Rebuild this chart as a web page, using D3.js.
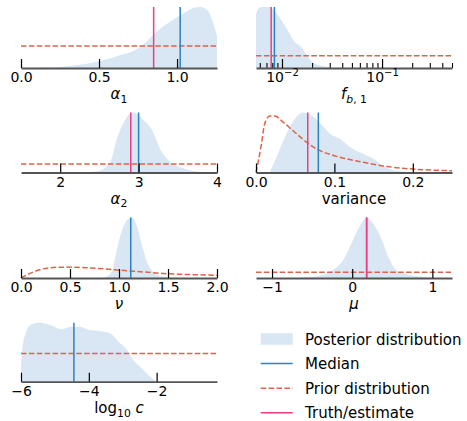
<!DOCTYPE html>
<html><head><meta charset="utf-8">
<script src="https://cdn.jsdelivr.net/npm/d3@7"></script>
<style>body{margin:0;background:#fff} svg{display:block} text{font-family:"DejaVu Sans",sans-serif;fill:#000}</style>
</head><body><svg id="c" width="467" height="421"></svg>
<script>
// ---------- data ----------
const alpha1Posterior = [[0,0],[0.1,0.003],[0.2,0.012],[0.3,0.03],[0.4,0.06],[0.5,0.11],[0.6,0.18],[0.65,0.22],[0.7,0.26],[0.75,0.32],[0.8,0.42],[0.85,0.55],[0.9,0.66],[0.95,0.75],[1.0,0.83],[1.05,0.91],[1.1,0.98],[1.15,1.0],[1.2,0.93],[1.23,0.75],[1.256,0.52]];
const alpha1PriorLevel = 0.36;
const alpha1Median = 1.02, alpha1Truth = 0.85;
const alpha1Ticks = [0, 0.5, 1.0];
const alpha1TickLabels = ["0.0","0.5","1.0"];

const fb1Posterior = [[0.0055,0.88],[0.0058,0.97],[0.0063,1.0],[0.0076,1.0],[0.0085,0.93],[0.0096,0.81],[0.0116,0.6],[0.0135,0.42],[0.0151,0.37],[0.0177,0.21],[0.0206,0.08],[0.028,0.02],[0.034,0]];
const fb1PriorLevel = 0.2;
const fb1Median = 0.0084, fb1Truth = 0.0078;
const fb1Ticks = [0.01, 0.1];
const fb1TickExponents = ["−2","−1"];
const fb1MinorTicks = [0.006,0.007,0.008,0.009,0.02,0.03,0.04,0.05,0.06,0.07,0.08,0.09,0.2,0.3,0.4,0.5];

const alpha2Posterior = [[2.3,0],[2.47,0.02],[2.64,0.18],[2.72,0.55],[2.83,0.88],[2.92,1.0],[2.98,0.98],[3.06,0.88],[3.17,0.71],[3.28,0.38],[3.4,0.18],[3.57,0.07],[3.8,0.01],[4.0,0]];
const alpha2PriorLevel = 0.14;
const alpha2Median = 3.0, alpha2Truth = 2.9;
const alpha2Ticks = [2, 3, 4];
const alpha2TickLabels = ["2","3","4"];

const variancePosterior = [[0.0175,0],[0.026,0.25],[0.037,0.59],[0.047,0.84],[0.06,1.0],[0.071,0.95],[0.084,0.79],[0.094,0.65],[0.107,0.56],[0.124,0.39],[0.137,0.31],[0.15,0.23],[0.162,0.11],[0.18,0.03],[0.21,0]];
const variancePrior = [[0,0],[0.007,0.48],[0.011,0.81],[0.0175,0.94],[0.024,0.94],[0.0345,0.84],[0.047,0.7],[0.066,0.49],[0.079,0.38],[0.1,0.28],[0.137,0.17],[0.167,0.1],[0.2,0.057],[0.25,0.03]];
const varianceMedian = 0.0795, varianceTruth = 0.066;
const varianceTicks = [0, 0.1, 0.2];
const varianceTickLabels = ["0.0","0.1","0.2"];

const nuPosterior = [[0.84,0],[0.925,0.1],[0.977,0.46],[1.03,0.79],[1.095,0.98],[1.13,1.0],[1.18,0.87],[1.23,0.57],[1.28,0.29],[1.35,0.1],[1.45,0.02],[1.55,0]];
const nuPrior = [[0,0],[0.126,0.1],[0.296,0.17],[0.466,0.18],[0.67,0.17],[1.0,0.13],[1.25,0.1],[1.5,0.07],[1.76,0.055],[2.0,0.045]];
const nuMedian = 1.12;
const nuTicks = [0, 0.5, 1.0, 1.5, 2.0];
const nuTickLabels = ["0.0","0.5","1.0","1.5","2.0"];

const muPosterior = [[-0.7,0],[-0.49,0.02],[-0.28,0.1],[-0.11,0.3],[0.01,0.63],[0.1,0.87],[0.18,1.0],[0.26,0.9],[0.37,0.63],[0.45,0.35],[0.55,0.13],[0.72,0.05],[0.97,0.01],[1.1,0]];
const muPriorLevel = 0.094;
const muMedian = 0.18, muTruth = 0.18;
const muTicks = [-1, 0, 1];
const muTickLabels = ["−1","0","1"];

const logcPosterior = [[-6,0.28],[-5.95,0.6],[-5.86,0.82],[-5.7,0.97],[-5.44,1.0],[-5.14,0.96],[-4.8,0.89],[-4.5,0.93],[-4.26,0.93],[-4.01,0.88],[-3.67,0.86],[-3.37,0.82],[-3.13,0.68],[-2.88,0.54],[-2.69,0.37],[-2.39,0.2],[-2.14,0.06],[-2.0,0]];
const logcPriorLevel = 0.48;
const logcMedian = -4.44;
const logcTicks = [-6, -4, -2];
const logcTickLabels = ["−6","−4","−2"];

const legendLabels = ["Posterior distribution","Median","Prior distribution","Truth/estimate"];

// ---------- styles / layout ----------
const C = {fill:"#d8e7f3", median:"#2a82c3", prior:"#dd6448", truth:"#ee3d82", axis:"#555"};
const colX = [[21,217],[256,452]];
const rowBottom = [68, 172.5, 278, 381.7];
const rowH = [61, 60, 60.5, 59];

const svg = d3.select("#c");

function richText(g, x, y, parts, size) {
  const t = g.append("text").attr("x", x).attr("y", y).attr("text-anchor","middle").attr("font-size", size);
  let shift = 0;
  parts.forEach(p => {
    const target = p.sub ? size*0.26 : p.sup ? -size*0.42 : 0;
    const ts = t.append("tspan").text(p.t).attr("dy", target - shift);
    shift = target;
    if (p.sub || p.sup) ts.attr("font-size", size*0.72);
    if (p.it) ts.attr("font-style","italic");
  });
  return t;
}

const panels = [
  {row:0,col:0,domain:[0,1.256],post:alpha1Posterior,priorLevel:alpha1PriorLevel,median:alpha1Median,truth:alpha1Truth,ticks:alpha1Ticks,labels:alpha1TickLabels,
   title:[{t:"α",it:true},{t:"1",sub:true}]},
  {row:0,col:1,log:true,domain:[0.0055,0.5],post:fb1Posterior,priorLevel:fb1PriorLevel,median:fb1Median,truth:fb1Truth,ticks:fb1Ticks,exps:fb1TickExponents,minor:fb1MinorTicks,
   title:[{t:"f",it:true},{t:"b",sub:true,it:true},{t:", 1",sub:true}]},
  {row:1,col:0,domain:[1.5,4],post:alpha2Posterior,priorLevel:alpha2PriorLevel,median:alpha2Median,truth:alpha2Truth,ticks:alpha2Ticks,labels:alpha2TickLabels,
   title:[{t:"α",it:true},{t:"2",sub:true}]},
  {row:1,col:1,domain:[0,0.25],post:variancePosterior,prior:variancePrior,median:varianceMedian,truth:varianceTruth,ticks:varianceTicks,labels:varianceTickLabels,
   title:[{t:"variance"}]},
  {row:2,col:0,domain:[0,2],post:nuPosterior,prior:nuPrior,median:nuMedian,ticks:nuTicks,labels:nuTickLabels,
   title:[{t:"ν",it:true}]},
  {row:2,col:1,domain:[-1.2,1.245],post:muPosterior,priorLevel:muPriorLevel,median:muMedian,truth:muTruth,ticks:muTicks,labels:muTickLabels,
   title:[{t:"μ",it:true}]},
  {row:3,col:0,domain:[-6,-0.22],post:logcPosterior,priorLevel:logcPriorLevel,median:logcMedian,ticks:logcTicks,labels:logcTickLabels,
   title:[{t:"log"},{t:"10",sub:true},{t:" "},{t:"c",it:true}]}
];

panels.forEach(p => {
  const [x0,x1] = colX[p.col];
  const bottom = rowBottom[p.row], H = rowH[p.row];
  const x = (p.log ? d3.scaleLog() : d3.scaleLinear()).domain(p.domain).range([x0,x1]);
  const y = d3.scaleLinear().domain([0,1]).range([bottom, bottom - H]);
  const g = svg.append("g");

  const area = d3.area().x(d => x(d[0])).y0(bottom).y1(d => y(d[1])).curve(d3.curveMonotoneX);
  g.append("path").datum(p.post).attr("d", area).attr("fill", C.fill);

  const priorData = p.prior || [[p.domain[0], p.priorLevel],[p.domain[1], p.priorLevel]];
  const line = d3.line().x(d => x(d[0])).y(d => y(d[1])).curve(d3.curveMonotoneX);
  g.append("path").datum(priorData).attr("d", line).attr("fill","none")
    .attr("stroke", C.prior).attr("stroke-width",1.5).attr("stroke-dasharray","5.5,2.4");

  const vline = (v, col) => g.append("line").attr("x1",x(v)).attr("x2",x(v)).attr("y1",bottom).attr("y2",bottom-H)
      .attr("stroke",col).attr("stroke-width",1.5);
  if (p.median !== undefined) vline(p.median, C.median);
  if (p.truth !== undefined) vline(p.truth, C.truth);

  // axis
  if (p.minor) {
    const am = g.append("g").attr("transform",`translate(0,${bottom})`)
      .call(d3.axisBottom(x).tickValues(p.minor).tickFormat("").tickSizeInner(-5).tickSizeOuter(0));
    am.select(".domain").remove();
    am.selectAll(".tick line").attr("stroke","#000").attr("stroke-width",1.1);
  }
  const ax = d3.axisBottom(x).tickValues(p.ticks).tickSizeInner(-9).tickSizeOuter(0).tickPadding(4.5)
    .tickFormat((d,i) => p.labels ? p.labels[i] : "10");
  const ag = g.append("g").attr("transform",`translate(0,${bottom})`).call(ax);
  ag.select(".domain").attr("stroke", C.axis).attr("stroke-width",1.8);
  ag.selectAll(".tick line").attr("stroke","#000").attr("stroke-width",1.2);
  ag.selectAll(".tick text").attr("font-family","DejaVu Sans, sans-serif").attr("font-size",14).attr("fill","#000");
  if (p.log) {
    ag.selectAll(".tick text").each(function(d,i){
      const t = d3.select(this);
      t.text(null);
      t.append("tspan").text("10");
      t.append("tspan").text(p.exps[i]).attr("font-size",10).attr("dy",-6);
    });
  }
  ag.raise();

  richText(svg, (x0+x1)/2, bottom + 31, p.title, 15);
});

// ---------- legend ----------
const lg = svg.append("g");
const lx0 = 260.7, lx1 = 292.7, ly0 = 339, ldy = 24.6;
lg.append("rect").attr("x",lx0).attr("y",ly0-5.8).attr("width",lx1-lx0).attr("height",11.6).attr("fill",C.fill);
[["median",null],["prior","5.5,2.4"],["truth",null]].forEach((s,i) => {
  const yy = ly0 + ldy*(i+1);
  lg.append("line").attr("x1",lx0).attr("x2",lx1).attr("y1",yy).attr("y2",yy)
    .attr("stroke",C[s[0]]).attr("stroke-width",1.5).attr("stroke-dasharray",s[1]);
});
legendLabels.forEach((t,i) => {
  lg.append("text").attr("x",305).attr("y",ly0 + ldy*i + 5.5).attr("font-size",15).text(t);
});
</script></body></html>
